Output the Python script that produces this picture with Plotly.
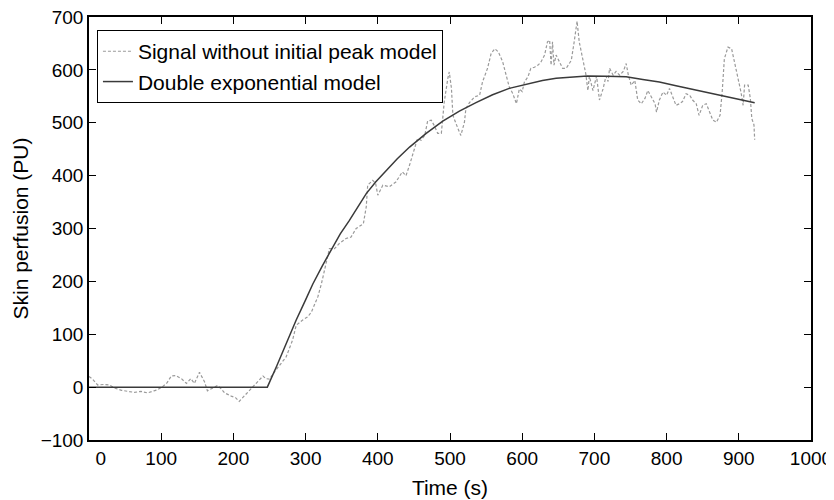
import plotly.graph_objects as go

# Signal without initial peak model (time s, perfusion PU)
signal_t = [0, 5, 12, 20, 28, 36, 45, 55, 63, 72, 81, 90, 95, 102, 108, 114, 120, 128, 135, 141,
            146, 153, 160, 164, 171, 178, 183, 188, 197, 203, 208, 215, 220, 225, 234, 241, 245, 250,
            257, 265, 273, 282, 287, 296, 303, 308, 317, 322, 328, 333, 340, 347, 356, 363, 370, 380,
            384, 386, 393, 397, 400, 407, 416, 425, 434, 439, 444, 451, 455, 460, 465, 469, 474, 478,
            483, 488, 492, 497, 499, 502, 504, 511, 515, 520, 522, 527, 534, 541, 545, 552, 557, 562,
            567, 573, 578, 582, 587, 592, 596, 600, 603, 608, 612, 617, 622, 626, 631, 635, 638, 640,
            642, 644, 647, 652, 656, 661, 668, 672, 676, 679, 684, 688, 691, 693, 698, 703, 707, 712,
            716, 719, 721, 726, 730, 735, 740, 744, 747, 751, 756, 760, 765, 770, 774, 779, 784, 786,
            790, 795, 800, 804, 809, 813, 818, 822, 827, 832, 836, 841, 845, 850, 855, 860, 864, 869,
            874, 877, 880, 885, 890, 894, 899, 903, 906, 908, 913, 916, 918, 921, 922]
signal_v = [20, 15, 4, 5, 4, -2, -6, -9, -10, -8, -11, -7, -5, 1, 8, 21, 22, 16, 7, 16,
            7, 28, 10, -7, -2, 3, -3, -11, -17, -20, -27, -17, -8, -2, 10, 21, 16, 15,
            29, 42, 57, 89, 117, 127, 133, 142, 171, 196, 234, 262, 262, 272, 281, 284, 300, 309,
            341, 382, 391, 385, 363, 382, 379, 388, 407, 400, 420, 452, 470, 467, 476, 503, 505, 495,
            480, 480, 539, 584, 596, 565, 514, 489, 476, 501, 527, 538, 549, 552, 577, 603, 631, 640,
            634, 615, 587, 568, 555, 536, 564, 559, 577, 587, 603, 605, 609, 615, 628, 653, 656, 609,
            653, 609, 628, 615, 603, 603, 618, 653, 692, 653, 621, 593, 561, 588, 561, 588, 543, 564,
            588, 578, 603, 590, 597, 590, 597, 612, 590, 571, 580, 543, 536, 546, 561, 549, 536, 520,
            543, 558, 552, 565, 546, 533, 536, 540, 555, 552, 543, 536, 514, 533, 536, 520, 505, 501,
            514, 558, 621, 643, 640, 615, 584, 558, 533, 571, 571, 546, 508, 496, 468]

# Double exponential model
model_t = [0, 247, 260, 273, 287, 300, 310, 323, 337, 348, 360, 372, 384, 397, 410, 427, 444, 467,
           490, 513, 536, 559, 582, 605, 628, 647, 665, 690, 717, 744, 767, 790, 813, 836, 859, 882,
           902, 922]
model_v = [0, 0, 40, 83, 127, 165, 195, 229, 262, 290, 314, 341, 366, 388, 408, 432, 454, 480,
           503, 522, 538, 553, 565, 573, 580, 584, 586, 588.5, 588, 587, 582, 577, 570, 563, 556, 549,
           543, 538]

x_ticks = [0, 100, 200, 300, 400, 500, 600, 700, 800, 900, 1000]
x_ticktext = ["\u2003\u20050", "100", "200", "300", "400", "500", "600", "700", "800", "900", "1000"]
y_ticks = [-100, 0, 100, 200, 300, 400, 500, 600, 700]

FONT = "Liberation Sans, Arial, Helvetica, sans-serif"

fig = go.Figure()
fig.add_trace(go.Scatter(
    x=signal_t, y=signal_v, mode="lines", name="Signal without initial peak model",
    line=dict(color="#9a9a9a", width=1.2, dash="3px,2px"),
))
fig.add_trace(go.Scatter(
    x=model_t, y=model_v, mode="lines", name="Double exponential model",
    line=dict(color="#3a3a3a", width=1.5),
))

axis_common = dict(
    showline=True, linecolor="black", linewidth=1.5, mirror="allticks",
    ticks="inside", ticklen=7, tickwidth=1, tickcolor="black",
    showgrid=False, zeroline=False, automargin=False,
    ticklabeloverflow="allow",
    tickfont=dict(family=FONT, size=19, color="black"),
)

# page body has an 8px margin, so the figure is sized to fit the 834x500 window
fig.update_layout(
    width=826, height=492,
    margin=dict(l=81, r=23, t=9, b=60),
    paper_bgcolor="white", plot_bgcolor="white",
    font=dict(family=FONT, size=21, color="black"),
    showlegend=True,
    legend=dict(
        x=0.011, y=0.969, xanchor="left", yanchor="top",
        bgcolor="white", bordercolor="black", borderwidth=1,
        font=dict(family=FONT, size=21, color="black"),
        tracegroupgap=0, itemwidth=30,
    ),
    xaxis=dict(
        range=[0, 1000], tickvals=x_ticks, ticktext=x_ticktext,
        title=dict(text="Time (s)", font=dict(family=FONT, size=21), standoff=13),
        **axis_common,
    ),
    yaxis=dict(
        range=[-100, 700], tickvals=y_ticks,
        title=dict(text="Skin perfusion (PU)", font=dict(family=FONT, size=21), standoff=6),
        **axis_common,
    ),
)

fig.write_html("out.html")
